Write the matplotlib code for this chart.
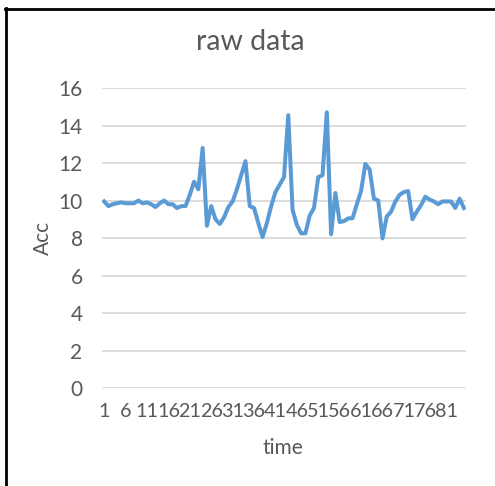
import matplotlib
matplotlib.use("Agg")
import matplotlib.pyplot as plt
from matplotlib.lines import Line2D

plt.rcParams['font.family'] = ['Lato', 'DejaVu Sans']

# raw accelerometer magnitude, one value per sample (1..85)
acc = [9.95, 9.7, 9.8, 9.85, 9.9, 9.85, 9.85, 9.85, 10.0, 9.85,
       9.9, 9.8, 9.65, 9.85, 10.0, 9.8, 9.8, 9.6, 9.7, 9.7,
       10.3, 11.0, 10.6, 12.8, 8.65, 9.7, 9.0, 8.75, 9.1, 9.65,
       9.95, 10.6, 11.35, 12.1, 9.7, 9.6, 8.8, 8.05, 8.8, 9.7,
       10.45, 10.85, 11.25, 14.55, 9.5, 8.7, 8.25, 8.25, 9.2, 9.6,
       11.25, 11.35, 14.7, 8.2, 10.4, 8.85, 8.9, 9.05, 9.05, 9.8,
       10.5, 11.95, 11.65, 10.1, 10.0, 7.98, 9.15, 9.4, 9.95, 10.3,
       10.45, 10.5, 9.0, 9.4, 9.75, 10.2, 10.05, 9.95, 9.8, 9.95,
       9.95, 9.95, 9.6, 10.1, 9.6]
time = list(range(1, len(acc) + 1))
xtick_pos = list(range(1, 82, 5))
ytick_pos = list(range(0, 17, 2))

txt = '#595959'
grid = '#D9D9D9'

W, H = 495, 486
fig = plt.figure(figsize=(W / 100, H / 100), dpi=100)
ax = fig.add_axes([102 / W, 1 - 388 / H, 364 / W, 300 / H])

ax.plot(time, acc, color='#5B9BD5', lw=2.9, solid_joinstyle='round')

ax.set_xlim(0.5, len(acc) + 0.5)
ax.set_ylim(0, 16)
ax.set_yticks(ytick_pos)
ax.set_xticks(xtick_pos)
ax.set_xticklabels([str(t) for t in xtick_pos])
ax.yaxis.grid(True, color=grid, lw=1.3)
ax.set_axisbelow(True)
for s in ax.spines.values():
    s.set_visible(False)
ax.tick_params(length=0, labelsize=15, labelcolor=txt)
ax.tick_params(axis='x', labelsize=14.2, pad=11)
ax.tick_params(axis='y', pad=14)

fig.text(250 / W, 1 - 42 / H, 'raw data', ha='center', va='center',
         fontsize=20.5, color=txt)
fig.text(283 / W, 1 - 448 / H, 'time', ha='center', va='center',
         fontsize=15, color=txt)
fig.text(43 / W, 1 - 238 / H, 'Acc', ha='center', va='center',
         fontsize=15, color=txt, rotation=90)

# black frame on top and left edges of the screenshot
fig.add_artist(Line2D([5 / W, 1], [1 - 9 / H, 1 - 9 / H], color='black', lw=2))
fig.add_artist(Line2D([6 / W, 6 / W], [0, 1 - 8 / H], color='black', lw=2))

fig.savefig('out.png', dpi=100)
